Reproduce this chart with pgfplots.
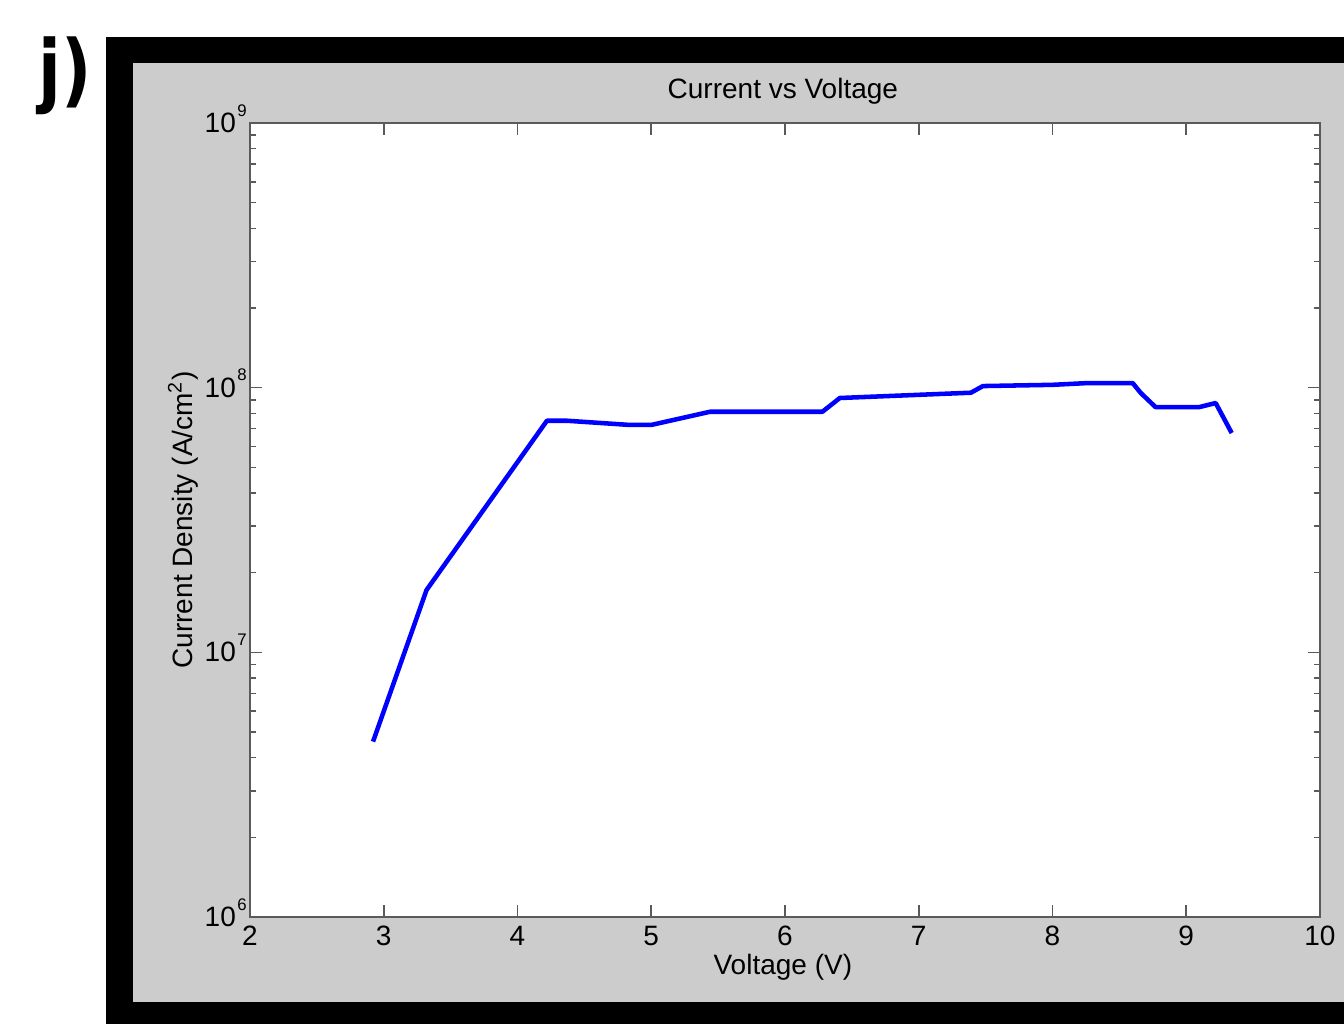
\documentclass[border=0pt]{standalone}
\usepackage{pgfplots}
\pgfplotsset{compat=1.18}
\usepackage{fontspec}
\setmainfont{Liberation Sans}
\newfontfamily\jfont{DejaVu Sans Condensed}[BoldFont={DejaVu Sans Condensed Bold}]
\definecolor{mgray}{RGB}{204,204,204}
\definecolor{axgray}{RGB}{90,90,90}
\newcommand{\pw}[1]{10\kern0.6pt\smash{\raisebox{6.2pt}{\fontsize{6.3}{7}\selectfont #1}}}
\begin{document}
\begin{tikzpicture}
\useasboundingbox (0pt,0pt) rectangle (504pt,384pt);
\fill[white] (0pt,0pt) rectangle (504pt,384pt);
\fill[black] (39.75pt,0pt) rectangle (504pt,370.125pt);
\fill[mgray] (49.875pt,8.25pt) rectangle (504pt,360.375pt);
\node[font=\jfont\bfseries\fontsize{30}{32}\selectfont, xscale=0.92] at (24.4pt,355.5pt) {j)};
\begin{axis}[
  at={(93.75pt,40.125pt)}, anchor=south west,
  scale only axis, width=401.25pt, height=297.75pt,
  ymode=log, xmin=2, xmax=10, ymin=1e6, ymax=1e9,
  axis background/.style={fill=white},
  axis line style={axgray, line width=0.6pt},
  every tick/.style={axgray, line width=0.6pt},
  tick align=inside, xtick pos=both, ytick pos=both,
  major tick length=4.5pt, minor tick length=2.3pt,
  xtick={2,3,4,5,6,7,8,9,10},
  ytick={1e6,1e7,1e8,1e9},
  yticklabels={\pw{6},\pw{7},\pw{8},\pw{9}},
  minor ytick={2e6,3e6,4e6,5e6,6e6,7e6,8e6,9e6,2e7,3e7,4e7,5e7,6e7,7e7,8e7,9e7,2e8,3e8,4e8,5e8,6e8,7e8,8e8,9e8},
  /pgf/number format/assume math mode=true,
  tick label style={font=\fontsize{10.5}{12}\selectfont, text=black},
  xticklabel style={yshift=0pt},
  yticklabel style={inner sep=0pt, anchor=east, xshift=-1pt},
  title={Current vs Voltage},
  title style={font=\fontsize{10.5}{12}\selectfont, at={(axis description cs:0.498,1.0113)}, anchor=base},
  xlabel={Voltage (V)},
  xlabel style={font=\fontsize{10.5}{12}\selectfont, at={(axis description cs:0.498,-0.063)}, anchor=center},
  ylabel={Current Density (A/cm\textsuperscript{2})},
  ylabel style={font=\fontsize{10.5}{12}\selectfont, at={(axis description cs:-0.0626,0.5)}, anchor=center, rotate=0},
]
\addplot[blue, line width=1.7pt, line join=round] coordinates {
(2.92,4.6e6)
(3.32,1.72e7)
(4.22,7.5e7)
(4.37,7.5e7)
(4.84,7.23e7)
(5.00,7.23e7)
(5.44,8.11e7)
(6.28,8.11e7)
(6.41,9.14e7)
(7.39,9.57e7)
(7.48,1.014e8)
(8.00,1.025e8)
(8.25,1.04e8)
(8.60,1.04e8)
(8.66,9.55e7)
(8.77,8.45e7)
(9.10,8.45e7)
(9.22,8.75e7)
(9.34,6.74e7)
};
\end{axis}
\end{tikzpicture}
\end{document}
